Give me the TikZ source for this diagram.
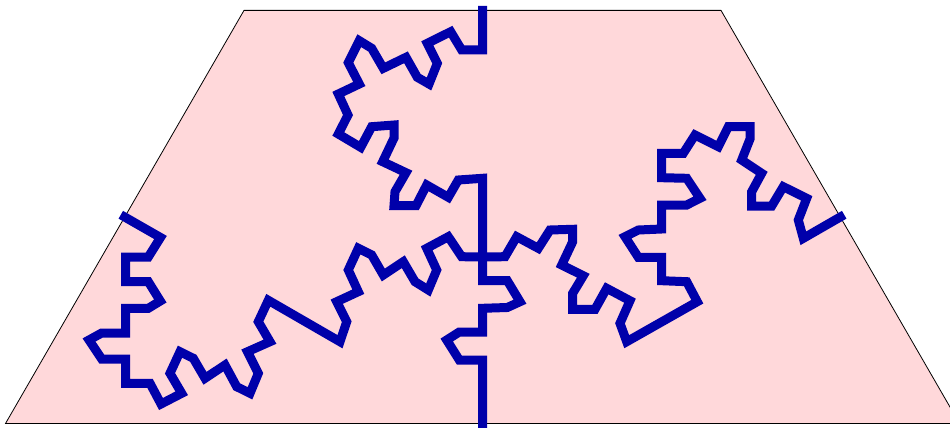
\documentclass[tikz,border=0pt]{standalone}
\begin{document}
\begin{tikzpicture}[x=1pt,y=-1pt]
\definecolor{hexfill}{RGB}{255,216,218}
\definecolor{curveblue}{RGB}{0,0,170}
\tikzset{fractal/.style={draw=curveblue,line width=9pt,line join=miter,line cap=rect}}
\useasboundingbox (0,0) rectangle (950,428);
\clip (0,0) rectangle (950,428);
\fill[hexfill,draw=black,line width=0.8pt] (5.5,423.5) -- (244,10.4) -- (721,10.4) -- (959.5,423.5) -- cycle;
\coordinate (T) at (482.5,10.4);
\coordinate (C) at (482.5,257);
\coordinate (B) at (482.5,423.5);
\coordinate (L) at (124.7,217);
\coordinate (R) at (840.3,217);
% top curve T -> C -> B
\draw[fractal] (T) -- (482.5,50) -- (461.7,50) -- (450.7,31.7) -- (427.3,43.3) -- (437.3,63.3)
 -- (429,84) -- (417.3,77.3) -- (406,57.3) -- (383.3,68.3) -- (371.7,48.3) -- (359.3,40.7)
 -- (348.3,62.7) -- (359.3,84) -- (338.3,94) -- (348,115) -- (338.3,134) -- (360.7,147.3)
 -- (371.7,126.7) -- (394,125) -- (394,138) -- (382.7,161.7) -- (406,172.7) -- (395,191.7)
 -- (394,205.7) -- (416,205.7) -- (426.7,185) -- (448.3,197.3) -- (458.3,180) -- (482.5,178.3)
 -- (C) -- (482.5,280.7) -- (507.3,280.7) -- (520,301.7) -- (507.3,307.5) -- (482.5,308.3)
 -- (482.5,332) -- (459.3,332) -- (446.7,340) -- (459.3,360) -- (482.5,360) -- (B);
% left curve L -> C
\draw[fractal] (L) -- (160.5,237.5) -- (148.3,257) -- (125.7,257) -- (125.7,281.7) -- (148.3,281.7)
 -- (160.3,301) -- (148.3,308.3) -- (125.7,308.3) -- (125.7,333) -- (101.7,333) -- (89,340)
 -- (101.7,359) -- (125.7,359) -- (125.7,383.3) -- (150,383.3) -- (161,404) -- (181.7,393.3)
 -- (170,373.3) -- (180,351.7) -- (193.3,358.3) -- (205,378.3) -- (225,365) -- (236.7,386.7)
 -- (250,393.3) -- (258.3,373.3) -- (247.5,351.7) -- (270,341.7) -- (258.3,321.7) -- (268.3,300.3)
 -- (340,341.7) -- (346.7,321.7) -- (336.7,301.7) -- (358.3,291.7) -- (348.3,270) -- (358.3,248.3)
 -- (371.7,255) -- (383.3,275) -- (403.3,261.7) -- (415,281.7) -- (428.3,290) -- (436.7,270)
 -- (426.7,248.3) -- (448.3,236.7) -- (461.7,256.7) -- (C);
% right curve R -> C
\draw[fractal] (R) -- (803.3,238.3) -- (798.3,220) -- (806.7,198.3) -- (783.3,186.7) -- (771.7,206)
 -- (751.7,206) -- (751.7,191.7) -- (761.7,173.3) -- (741.7,160) -- (750,139) -- (750,126.7)
 -- (728.3,126.7) -- (718.3,146.7) -- (695,135) -- (683.3,153.3) -- (661.7,153.3) -- (661.7,177.7)
 -- (686.7,178.3) -- (700,198.3) -- (686.7,205) -- (661.7,205) -- (661.7,229) -- (638.3,230)
 -- (625,236.7) -- (638.3,257.3) -- (661.7,257.3) -- (661.7,280.7) -- (686.7,281.7) -- (697.3,301.7)
 -- (626.7,341.7) -- (620,323.3) -- (630,300.7) -- (606.7,288.3) -- (595,309.3) -- (572.7,309.3)
 -- (572.7,293.3) -- (583.3,275.7) -- (561.7,265) -- (572.7,241.7) -- (572.7,229.3) -- (550,230)
 -- (538.3,248.3) -- (516.7,236.7) -- (505,256.7) -- (C);
\end{tikzpicture}
\end{document}
